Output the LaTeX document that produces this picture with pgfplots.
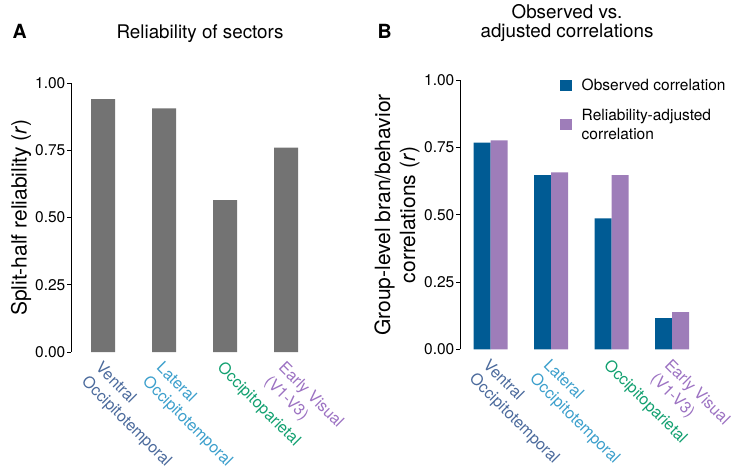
\documentclass[border=0pt]{standalone}
\usepackage{pgfplots}
\pgfplotsset{compat=1.18}
\usepackage{fontspec}
\setmainfont{TeX Gyre Heros}

\definecolor{bargrey}{HTML}{737373}
\definecolor{obsblue}{HTML}{005B94}
\definecolor{adjpurple}{HTML}{9E7DB9}
\definecolor{cvot}{HTML}{4B6A9C}
\definecolor{clot}{HTML}{3C9FCC}
\definecolor{cop}{HTML}{12A070}
\definecolor{cev}{HTML}{9C72C2}

\newcommand{\tickfont}{\fontsize{15.5bp}{19bp}\selectfont}
\newcommand{\catfont}{\fontsize{16bp}{19.5bp}\selectfont}
\newcommand{\titlefont}{\fontsize{18.8bp}{22bp}\selectfont}
\newcommand{\labfont}{\fontsize{21bp}{25bp}\selectfont}

\pgfplotsset{
  panel/.style={
    scale only axis, anchor=south west,
    axis y line*=left, axis x line*=bottom,
    x axis line style={draw=none},
    xtick style={draw=none},
    ymin=0, ymax=1, ytick={0,0.25,0.5,0.75,1},
    yticklabel style={/pgf/number format/fixed, /pgf/number format/fixed zerofill,
      /pgf/number format/precision=2, /pgf/number format/assume math mode=true},
    tick label style={font=\tickfont, text=black},
    tick align=outside, major tick length=4bp,
    y axis line style={line width=0.8bp, black},
    ytick style={line width=0.8bp, black},
    xtick={0,1,2,3}, xmax=3.7,
    xticklabel style={rotate=-45, anchor=north west, align=left, inner sep=0pt,
      font=\catfont, xshift=3bp, yshift=-3bp},
    xticklabels={
      {\textcolor{cvot}{Ventral}\\\textcolor{cvot}{Occipitotemporal}},
      {\textcolor{clot}{Lateral}\\\textcolor{clot}{Occipitotemporal}},
      {\textcolor{cop}{Occipitoparietal}},
      {\textcolor{cev}{Early Visual}\\\textcolor{cev}{(V1-V3)}}},
    yticklabel style={inner sep=0pt, xshift=-1.5bp},
  },
}

\begin{document}
\begin{tikzpicture}[x=1bp, y=1bp]
\useasboundingbox (0,0) rectangle (733,-472);

% Panel A
\node[anchor=base west, font=\fontsize{19.5bp}{22bp}\selectfont\bfseries] at (9,-39) {A};
\node[anchor=base, font=\titlefont] at (200,-38.3) {Reliability of sectors};
\node[rotate=90, font=\labfont] at (21,-217.5) {Split-half reliability (\textit{r})};
\begin{axis}[panel, at={(71bp,-352bp)}, width=257.7bp, height=269bp,
    xmin=-0.525, ybar, bar width=24bp]
  \addplot[fill=bargrey, draw=none] coordinates {(0,0.940) (1,0.906) (2,0.565) (3,0.760)};
\end{axis}

% Panel B
\node[anchor=base west, font=\fontsize{19.5bp}{22bp}\selectfont\bfseries] at (374,-39) {B};
\node[anchor=base, font=\titlefont] at (567,-18.5) {Observed vs.};
\node[anchor=base, font=\titlefont] at (567,-37.5) {adjusted correlations};
\node[rotate=90, font=\labfont, align=center] at (397,-215)
  {Group-level bran/behavior\\correlations (\textit{r})};
\begin{axis}[panel, at={(460bp,-349.3bp)}, width=254.5bp, height=269.3bp,
    xmin=-0.507, ybar=0pt, bar width=17bp,
    legend style={draw=none, fill=none, inner sep=0pt, font=\tickfont,
      at={(axis description cs:0.393,1.012)}, anchor=north west,
      cells={anchor=west, align=left, inner sep=1bp}, row sep=13bp, column sep=8bp},
    legend image code/.code={\fill[#1] (0bp,-5.5bp) rectangle (11.5bp,5.5bp);}]
  \addplot[fill=obsblue, draw=none] coordinates {(0,0.767) (1,0.647) (2,0.486) (3,0.116)};
  \addlegendentry{Observed correlation}
  \addplot[fill=adjpurple, draw=none] coordinates {(0,0.776) (1,0.657) (2,0.647) (3,0.138)};
  \addlegendentry{Reliability-adjusted\\correlation}
\end{axis}
\end{tikzpicture}
\end{document}
